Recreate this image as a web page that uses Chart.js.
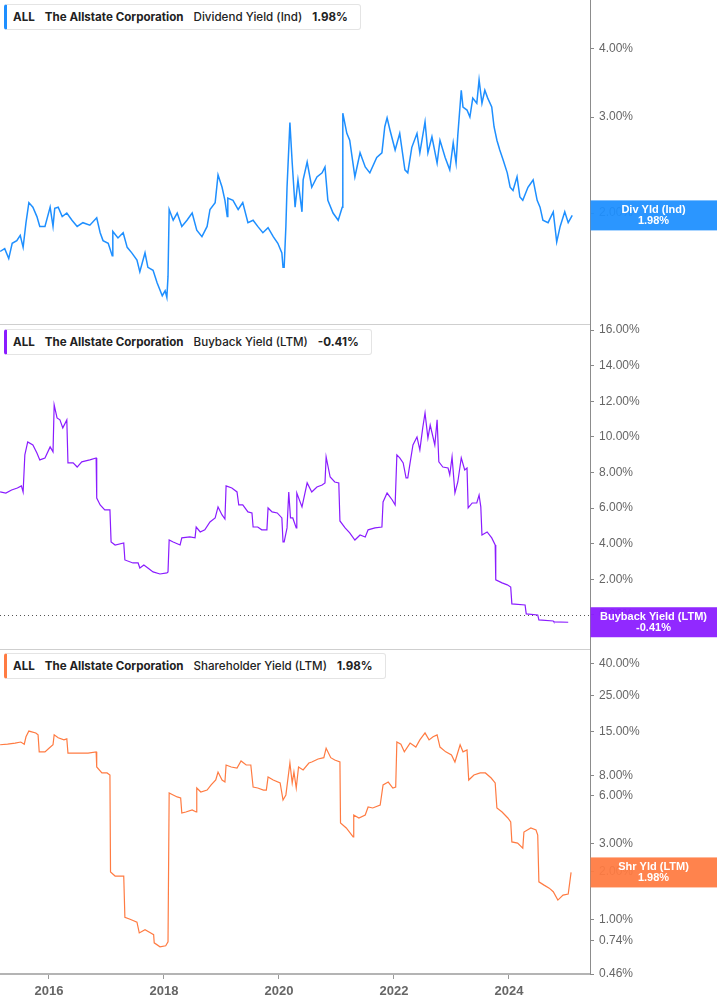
<!DOCTYPE html>
<html>
<head>
<meta charset="utf-8">
<script src="https://cdn.jsdelivr.net/npm/chart.js@4.4.1/dist/chart.umd.min.js"></script>
<style>
  html, body { margin: 0; padding: 0; background: #fff; }
  #wrap { position: relative; width: 717px; height: 1005px; overflow: hidden; }
  #wrap canvas { position: absolute; left: 0; }
  .tag {
    position: absolute; left: 4px; height: 24px; box-sizing: content-box;
    display: flex; align-items: center; gap: 10px;
    padding: 0 12px 0 6px; background: #fff;
    border: 1px solid #e4e4e4; border-left: 3px solid; border-radius: 3px;
    font-family: Inter, "Noto Sans", sans-serif; font-size: 11.6px; color: #222; white-space: nowrap;
  }
  .tag b { font-weight: 700; }
  .tag span { font-weight: 500; }
</style>
</head>
<body>
<div id="wrap">
  <canvas id="divChart" width="717" height="333" style="top:0"></canvas>
  <canvas id="buyChart" width="717" height="341" style="top:317px"></canvas>
  <canvas id="shrChart" width="717" height="363" style="top:642px"></canvas>
  <div class="tag" style="top:4px;border-left-color:#1e8fff"><b>ALL</b><b>The Allstate Corporation</b><span>Dividend Yield (Ind)</span><b>1.98%</b></div>
  <div class="tag" style="top:329px;border-left-color:#8a1cff"><b>ALL</b><b>The Allstate Corporation</b><span>Buyback Yield (LTM)</span><b>-0.41%</b></div>
  <div class="tag" style="top:653px;border-left-color:#ff7b42"><b>ALL</b><b>The Allstate Corporation</b><span>Shareholder Yield (LTM)</span><b>1.98%</b></div>
</div>
<script>
// dividend yield (ind), % -- dates as decimal years
const divDates = [
  2015.15, 2015.23, 2015.30, 2015.36, 2015.44, 2015.50, 2015.55, 2015.60, 2015.65, 2015.72, 2015.79, 2015.84, 2015.93,
  2016.02, 2016.07, 2016.10, 2016.16, 2016.23, 2016.31, 2016.40, 2016.49, 2016.59, 2016.71, 2016.83, 2016.89, 2016.94,
  2017.03, 2017.10, 2017.11, 2017.20, 2017.29, 2017.36, 2017.44, 2017.53, 2017.58, 2017.67, 2017.72, 2017.81, 2017.88, 2017.97,
  2018.02, 2018.05, 2018.07, 2018.09, 2018.16, 2018.23, 2018.31, 2018.40, 2018.49, 2018.57, 2018.66, 2018.75, 2018.80, 2018.89, 2018.94,
  2019.01, 2019.06, 2019.10, 2019.11, 2019.20, 2019.29, 2019.37, 2019.46, 2019.55, 2019.63, 2019.72, 2019.81, 2019.90, 2019.98,
  2020.05, 2020.07, 2020.09, 2020.12, 2020.14, 2020.19, 2020.23, 2020.28, 2020.33, 2020.40, 2020.42, 2020.49, 2020.57, 2020.66, 2020.75, 2020.80, 2020.85, 2020.94,
  2021.03, 2021.10, 2021.11, 2021.18, 2021.23, 2021.32, 2021.41, 2021.50, 2021.58, 2021.70, 2021.79, 2021.84, 2021.88, 2021.93,
  2022.02, 2022.10, 2022.19, 2022.24, 2022.31, 2022.40, 2022.45, 2022.54, 2022.59, 2022.66, 2022.75, 2022.80, 2022.89, 2022.97,
  2023.03, 2023.08, 2023.11, 2023.17, 2023.20, 2023.27, 2023.32, 2023.37, 2023.44, 2023.48, 2023.53, 2023.58, 2023.63, 2023.70, 2023.74, 2023.79, 2023.84, 2023.90, 2023.97,
  2024.02, 2024.07, 2024.14, 2024.19, 2024.24, 2024.33, 2024.42, 2024.49, 2024.54, 2024.59, 2024.68, 2024.77, 2024.83, 2024.89, 2024.97, 2025.03, 2025.10
];
const divYield = [
  1.70, 1.72, 1.65, 1.76, 1.78, 1.82, 1.73, 1.92, 2.09, 2.05, 1.97, 1.89, 1.89,
  2.05, 1.89, 2.04, 2.05, 1.97, 2.00, 1.94, 1.89, 1.92, 1.90, 1.96, 1.84, 1.78,
  1.76, 1.67, 1.85, 1.80, 1.84, 1.73, 1.69, 1.64, 1.56, 1.69, 1.59, 1.57, 1.49, 1.41,
  1.44, 1.40, 1.53, 2.03, 1.94, 2.00, 1.89, 1.94, 2.00, 1.86, 1.81, 1.89, 2.03, 2.09, 2.35,
  2.23, 2.11, 1.97, 2.13, 2.11, 2.03, 2.09, 1.92, 1.94, 1.89, 1.84, 1.88, 1.81, 1.76,
  1.69, 1.59, 1.59, 1.89, 2.23, 2.93, 2.47, 2.05, 2.30, 2.01, 2.30, 2.48, 2.23, 2.33, 2.37, 2.43, 2.11, 2.00,
  1.94, 2.05, 3.05, 2.80, 2.72, 2.33, 2.58, 2.43, 2.37, 2.53, 2.58, 2.88, 2.99, 2.84,
  2.61, 2.80, 2.40, 2.37, 2.64, 2.80, 2.58, 2.94, 2.58, 2.76, 2.47, 2.72, 2.53, 2.40,
  2.69, 2.47, 2.78, 3.36, 3.13, 3.09, 3.00, 3.25, 3.18, 3.51, 3.18, 3.36, 3.25, 3.13, 2.88, 2.72, 2.61, 2.50, 2.37,
  2.23, 2.20, 2.33, 2.14, 2.11, 2.23, 2.30, 2.11, 2.05, 1.94, 1.92, 2.01, 1.77, 1.89, 2.01, 1.92, 1.98
];

// buyback yield (LTM), %
const buyDates = [
  2015.15, 2015.25, 2015.35, 2015.45, 2015.52, 2015.55, 2015.58, 2015.63, 2015.72, 2015.79, 2015.84, 2015.93,
  2016.02, 2016.07, 2016.09, 2016.14, 2016.19, 2016.24, 2016.31, 2016.33, 2016.42, 2016.49, 2016.57, 2016.71, 2016.82, 2016.83, 2016.89, 2016.97,
  2017.06, 2017.08, 2017.15, 2017.30, 2017.32, 2017.46, 2017.55, 2017.58, 2017.65, 2017.72, 2017.81, 2017.93,
  2018.05, 2018.07, 2018.09, 2018.16, 2018.28, 2018.31, 2018.45, 2018.54, 2018.56, 2018.63, 2018.71, 2018.80, 2018.89, 2018.94,
  2019.01, 2019.06, 2019.08, 2019.18, 2019.27, 2019.30, 2019.37, 2019.46, 2019.53, 2019.55, 2019.63, 2019.70, 2019.79, 2019.81, 2019.88, 2019.97,
  2020.05, 2020.07, 2020.09, 2020.14, 2020.17, 2020.20, 2020.24, 2020.30, 2020.31, 2020.40, 2020.49, 2020.57, 2020.66, 2020.75, 2020.80, 2020.82, 2020.89, 2020.97,
  2021.04, 2021.06, 2021.15, 2021.23, 2021.32, 2021.41, 2021.50, 2021.55, 2021.67, 2021.79, 2021.81, 2021.88, 2021.97,
  2022.02, 2022.05, 2022.10, 2022.16, 2022.21, 2022.24, 2022.28, 2022.33, 2022.40, 2022.45, 2022.50, 2022.54, 2022.59, 2022.63, 2022.71, 2022.75, 2022.78, 2022.85, 2022.94, 2022.97,
  2023.01, 2023.06, 2023.11, 2023.17, 2023.23, 2023.27, 2023.29, 2023.36, 2023.44, 2023.48, 2023.51, 2023.53, 2023.62, 2023.70, 2023.76, 2023.77, 2023.88, 2023.97,
  2024.03, 2024.05, 2024.28, 2024.30, 2024.50, 2024.52, 2024.77, 2024.78, 2025.03
];
const buyYield = [
  6.91, 6.85, 7.02, 7.13, 7.25, 6.91, 8.99, 9.72, 9.55, 9.10, 8.71, 8.82,
  9.44, 9.16, 11.80, 11.07, 10.96, 10.51, 10.96, 8.54, 8.54, 8.31, 8.60, 8.71, 8.82, 6.57, 6.18, 5.90,
  5.90, 4.10, 3.93, 4.04, 3.09, 2.92, 2.92, 2.64, 2.81, 2.64, 2.42, 2.30,
  2.36, 2.42, 4.21, 4.10, 3.93, 4.33, 4.38, 4.33, 4.94, 4.66, 4.78, 5.22, 5.45, 6.07,
  5.62, 5.39, 7.25, 7.13, 6.91, 6.18, 6.18, 5.79, 5.73, 4.94, 4.94, 4.78, 4.78, 6.01, 5.79, 5.73,
  5.45, 4.10, 4.10, 4.89, 6.91, 5.45, 5.45, 4.89, 6.85, 6.07, 7.42, 6.91, 7.19, 7.30, 7.42, 8.88, 7.75, 7.47,
  7.42, 5.28, 4.89, 4.61, 4.21, 4.49, 4.38, 4.78, 4.89, 4.94, 6.35, 6.85, 6.46,
  6.18, 8.99, 8.82, 8.54, 7.70, 7.70, 8.54, 9.55, 10.00, 9.27, 10.51, 11.35, 9.94, 10.67, 9.55, 10.96, 8.60, 8.31, 8.26, 7.87,
  8.88, 6.85, 7.47, 8.82, 8.15, 8.26, 6.01, 6.29, 6.29, 6.74, 6.07, 4.49, 4.66, 4.33, 3.93, 1.97, 1.80, 1.69,
  1.57, 0.62, 0.56, 0.06, 0.00, -0.28, -0.34, -0.39, -0.41
];

// shareholder yield (LTM), %
const shrDates = [
  2015.15, 2015.28, 2015.41, 2015.51, 2015.57, 2015.60, 2015.65, 2015.77, 2015.81, 2015.83, 2015.93,
  2016.00, 2016.07, 2016.09, 2016.16, 2016.26, 2016.31, 2016.33, 2016.45, 2016.56, 2016.68, 2016.82, 2016.83, 2016.92,
  2017.01, 2017.06, 2017.07, 2017.15, 2017.30, 2017.32, 2017.41, 2017.53, 2017.57, 2017.67, 2017.77, 2017.82, 2017.83, 2017.93,
  2018.03, 2018.07, 2018.09, 2018.16, 2018.23, 2018.29, 2018.31, 2018.38, 2018.49, 2018.56, 2018.57, 2018.64, 2018.75, 2018.82, 2018.90, 2018.94,
  2019.01, 2019.06, 2019.08, 2019.17, 2019.27, 2019.34, 2019.43, 2019.51, 2019.55, 2019.63, 2019.73, 2019.78, 2019.81, 2019.90,
  2020.02, 2020.07, 2020.12, 2020.19, 2020.23, 2020.26, 2020.30, 2020.34, 2020.42, 2020.52, 2020.57, 2020.68, 2020.78, 2020.82, 2020.90, 2020.97,
  2021.06, 2021.07, 2021.17, 2021.29, 2021.30, 2021.39, 2021.50, 2021.55, 2021.63, 2021.76, 2021.81, 2021.90, 2021.98,
  2022.03, 2022.05, 2022.12, 2022.18, 2022.28, 2022.38, 2022.45, 2022.54, 2022.61, 2022.68, 2022.75, 2022.80, 2022.90,
  2023.00, 2023.06, 2023.15, 2023.20, 2023.27, 2023.30, 2023.39, 2023.50, 2023.59, 2023.69, 2023.76, 2023.79, 2023.88, 2023.98,
  2024.03, 2024.05, 2024.15, 2024.24, 2024.26, 2024.38, 2024.47, 2024.50, 2024.52, 2024.61, 2024.70, 2024.77, 2024.85, 2024.94, 2025.03, 2025.08
];
const shrYield = [
  12.4, 12.5, 12.7, 12.9, 12.5, 13.9, 15.1, 14.7, 14.3, 11.2, 11.2,
  11.8, 12.4, 14.3, 13.7, 13.3, 13.5, 11.0, 11.0, 11.0, 11.0, 11.2, 9.01, 8.27,
  8.27, 8.03, 1.99, 1.88, 1.88, 1.04, 1.01, 0.97, 0.83, 0.87, 0.83, 0.81, 0.72, 0.68,
  0.69, 0.73, 6.20, 6.03, 5.86, 5.77, 4.65, 4.72, 4.86, 4.72, 6.66, 6.29, 6.47, 6.96, 7.47, 8.38,
  7.47, 7.26, 9.27, 9.01, 8.88, 9.82, 9.27, 9.27, 6.76, 6.66, 6.47, 6.47, 7.81, 7.47,
  7.16, 5.61, 6.03, 9.54, 7.16, 8.38, 6.66, 9.01, 8.63, 9.54, 9.68, 10.1, 10.3, 11.8, 10.3, 9.96,
  9.68, 4.03, 3.75, 3.30, 4.52, 4.33, 4.52, 5.07, 5.00, 5.22, 6.96, 7.26, 6.66,
  6.76, 12.9, 12.5, 11.2, 12.7, 12.0, 13.3, 14.7, 13.3, 13.9, 14.3, 12.0, 11.2,
  10.7, 9.68, 12.4, 11.2, 11.5, 7.47, 8.03, 8.27, 8.27, 7.69, 7.16, 5.00, 4.72, 4.33,
  4.09, 3.07, 3.02, 2.81, 3.54, 3.75, 3.64, 3.39, 1.73, 1.65, 1.58, 1.50, 1.33, 1.43, 1.45, 1.98
];

// tick labels
const yearTicks = [2016, 2018, 2020, 2022, 2024];
const divTicks = [2, 3, 4];
const buyTicks = [0, 2, 4, 6, 8, 10, 12, 14, 16];
const shrTicks = [40, 25, 15, 8, 6, 3, 2, 1, 0.74, 0.46];

const X_MIN = 2015.148, X_MAX = 2025.409;
const AXIS_W = 127;
const tickFont = { family: '"Liberation Sans", Arial, sans-serif', size: 12 };

const toPoints = (xs, ys) => xs.map((x, i) => ({ x: x, y: ys[i] }));
const pct = v => Number(v).toFixed(2) + '%';

// separator line, dotted zero line and the coloured last-value tag on the axis
const panelExtras = {
  id: 'panelExtras',
  beforeDatasetsDraw(chart, args, opts) {
    const { ctx, chartArea: a, scales: { y } } = chart;
    ctx.save();
    if (opts.separator) {
      ctx.strokeStyle = '#cfcfcf';
      ctx.lineWidth = 1;
      ctx.beginPath();
      ctx.moveTo(0, a.bottom - 0.5);
      ctx.lineTo(a.right, a.bottom - 0.5);
      ctx.stroke();
    }
    if (opts.zeroLine) {
      const zy = Math.round(y.getPixelForValue(0)) + 0.5;
      ctx.strokeStyle = '#555';
      ctx.setLineDash([1, 3]);
      ctx.beginPath();
      ctx.moveTo(0, zy);
      ctx.lineTo(a.right, zy);
      ctx.stroke();
    }
    ctx.restore();
  },
  afterDraw(chart, args, opts) {
    const { ctx, chartArea: a, scales: { y } } = chart;
    const cy = y.getPixelForValue(opts.last);
    ctx.save();
    ctx.globalAlpha = 0.94;
    ctx.fillStyle = opts.color;
    ctx.fillRect(a.right + 0.5, cy - 15, chart.width - a.right, 30);
    ctx.globalAlpha = 1;
    ctx.fillStyle = '#fff';
    ctx.font = 'bold 11px "Liberation Sans", Arial, sans-serif';
    ctx.textAlign = 'center';
    ctx.textBaseline = 'middle';
    const cx = a.right + (chart.width - a.right) / 2;
    ctx.fillText(opts.title, cx, cy - 5.5);
    ctx.fillText(pct(opts.last), cx, cy + 5.5);
    ctx.restore();
  }
};

function yScale(type, min, max, ticks) {
  return {
    type: type,
    position: 'right',
    min: min,
    max: max,
    afterBuildTicks: s => { s.ticks = ticks.map(v => ({ value: v })); },
    afterFit: s => { s.width = AXIS_W; s.paddingTop = 0; s.paddingBottom = 0; },
    grid: { drawOnChartArea: false, drawTicks: true, tickLength: 4, tickColor: '#888' },
    border: { display: true, color: '#8c8c8c' },
    ticks: { autoSkip: false, padding: 5, color: '#666', font: tickFont, callback: v => pct(v) }
  };
}

function xScale(show) {
  return {
    type: 'linear',
    min: X_MIN,
    max: X_MAX,
    display: show,
    afterBuildTicks: s => { s.ticks = yearTicks.map(v => ({ value: v })); },
    afterFit: s => {
      s.height = show ? 31 : 0;
      s.paddingLeft = 0;
      s.paddingRight = 0;
    },
    grid: { drawOnChartArea: false, drawTicks: true, tickLength: 5, tickColor: '#999' },
    border: { display: true, color: '#b4b4b4', width: 2 },
    ticks: {
      autoSkip: false, maxRotation: 0, padding: 5, color: '#666',
      font: { family: '"Liberation Sans", Arial, sans-serif', size: 13, weight: 'bold' },
      callback: v => String(v)
    }
  };
}

function makePanel(id, opts) {
  return new Chart(document.getElementById(id), {
    type: 'line',
    data: {
      datasets: [{
        data: toPoints(opts.dates, opts.values),
        borderColor: opts.color,
        borderWidth: opts.lineWidth,
        pointRadius: 0,
        tension: 0
      }]
    },
    options: {
      responsive: false,
      animation: false,
      devicePixelRatio: 1,
      layout: { padding: opts.padding },
      plugins: {
        legend: { display: false },
        tooltip: { enabled: false },
        panelExtras: {
          color: opts.color, title: opts.title, last: opts.values[opts.values.length - 1],
          separator: opts.separator, zeroLine: opts.zeroLine
        }
      },
      scales: { x: xScale(opts.showX), y: opts.y }
    },
    plugins: [panelExtras]
  });
}

makePanel('divChart', {
  dates: divDates, values: divYield, color: '#1e8fff', lineWidth: 1.5, title: 'Div Yld (Ind)',
  padding: { top: 0, bottom: 8, left: 0, right: 0 }, showX: false, separator: true, zeroLine: false,
  y: yScale('logarithmic', 1.246, 4.92, divTicks)
});

makePanel('buyChart', {
  dates: buyDates, values: buyYield, color: '#8a1cff', lineWidth: 1.2, title: 'Buyback Yield (LTM)',
  padding: { top: 8, bottom: 8, left: 0, right: 0 }, showX: false, separator: true, zeroLine: true,
  y: yScale('linear', -1.97, 16.29, buyTicks)
});

makePanel('shrChart', {
  dates: shrDates, values: shrYield, color: '#ff7b42', lineWidth: 1.2, title: 'Shr Yld (LTM)',
  padding: { top: 8, bottom: 0, left: 0, right: 0 }, showX: true, separator: false, zeroLine: false,
  y: yScale('logarithmic', 0.46, 48.4, shrTicks)
});
</script>
</body>
</html>
